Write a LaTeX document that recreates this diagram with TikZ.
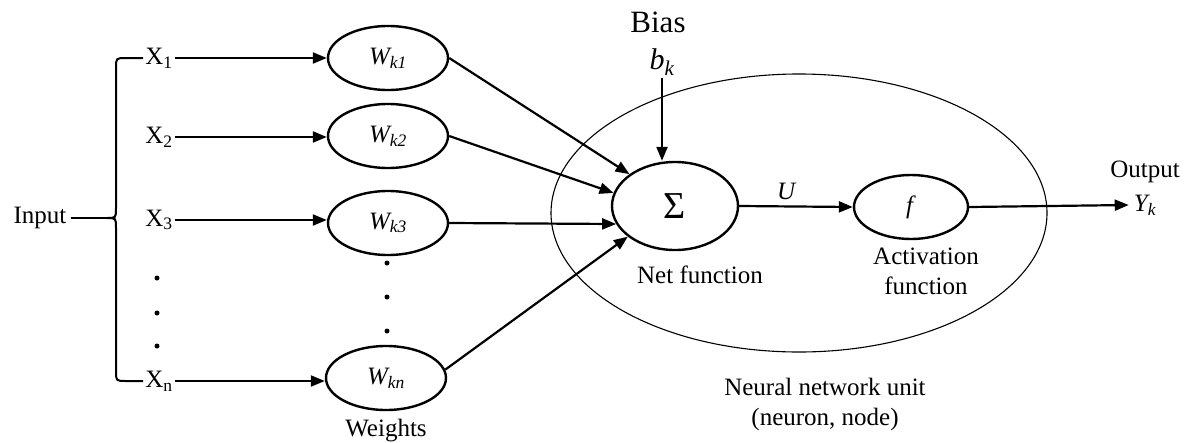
\documentclass[tikz,border=0pt]{standalone}
\usepackage{fontspec}
\setmainfont{Liberation Serif}
\usetikzlibrary{arrows.meta,positioning,shapes.geometric}

\begin{document}
\begin{tikzpicture}[
  x=1pt, y=-1pt,
  font=\fontsize{25}{30}\selectfont,
  node distance=8pt and 10pt,
  lab/.style={align=center, inner sep=2pt},
  wnode/.style={draw, ellipse, line width=2.4pt, inner sep=0pt,
                minimum width=120pt, minimum height=64pt},
  arr/.style={-{Triangle[length=14pt,width=11pt]}, line width=2.2pt},
  dot/.style={circle, fill, inner sep=0pt, minimum size=5pt}
]
\useasboundingbox (0,0) rectangle (1185,442);
% the neuron
\node[draw, ellipse, line width=1.1pt, minimum width=496pt, minimum height=278pt] (unit) at (799,213) {};
\node[lab] (unitlab) at (825,404) {Neural network unit\\(neuron, node)};
% inputs
\node[lab, inner sep=4pt] (input) at (40,218) {Input};
\node[lab] (x1) at (159,58) {X\textsubscript{1}};
\node[lab] (x2) at (159,137) {X\textsubscript{2}};
\node[lab] (x3) at (159,220) {X\textsubscript{3}};
\node[lab] (xn) at (159,381) {X\textsubscript{n}};
\foreach \y [count=\i] in {278,313,346}
  \node[dot] (xd\i) at (157,\y) {};
\coordinate (tip) at (107,218);
\draw[line width=2pt] (x1.west) -- (126,58) .. controls (116,58) .. (116,68)
  -- (116,208) .. controls (116,218) .. (tip) .. controls (116,218) .. (116,228)
  -- (116,371) .. controls (116,381) .. (126,381) -- (xn.west);
\draw[line width=2.2pt] (input.east) -- (tip);
% weights
\node[wnode] (w1) at (388,58) {\textit{W\textsubscript{k1}}};
\node[wnode] (w2) at (388,136) {\textit{W\textsubscript{k2}}};
\node[wnode] (w3) at (388,223) {\textit{W\textsubscript{k3}}};
\node[wnode] (wn) at (386,378) {\textit{W\textsubscript{kn}}};
\foreach \y [count=\i] in {263,297,331}
  \node[dot] (wd\i) at (387,\y) {};
\node[lab, below=6pt of wn] (wlab) {Weights};
\draw[arr] (x1.east) -- (x1.east -| w1.west);
\draw[arr] (x2.east) -- (x2.east -| w2.west);
\draw[arr] (x3.east) -- (x3.east -| w3.west);
\draw[arr] (xn.east) -- (xn.east -| wn.west);
% summation
\node[draw, ellipse, line width=2.4pt, inner sep=0pt, minimum width=126pt,
      minimum height=88pt, font=\fontsize{38}{40}\selectfont] (sig) at (675,206) {Σ};
\node[lab, below=12pt of sig, xshift=25pt] (siglab) {Net function};
\node[lab, font=\fontsize{31}{34}\selectfont] (bias) at (658,22) {Bias};
\node[lab, font=\fontsize{30}{34}\selectfont] (bk) at (662,62) {\textit{b\textsubscript{k}}};
\draw[arr] (bk.south) -- (bk.south |- sig.north);
\draw[arr] (w1.east) -- (sig.145);
\draw[arr] (w2.east) -- (sig.168);
\draw[arr] (w3.east) -- (sig.197);
\draw[arr] (wn.8) -- (sig.213);
% activation
\node[wnode, minimum width=114pt] (f) at (911,207) {\textit{f}};
\node[lab, below=6pt of f, xshift=15pt] (flab) {Activation\\function};
\draw[arr] (sig.east) -- (f.west) node[pos=0.42, above=2pt] {\textit{U}};
% output
\node[lab, inner sep=5pt] (yk) at (1145,205) {\textit{Y\textsubscript{k}}};
\node[lab] (outlab) at (1145,172) {Output};
\draw[arr] (f.east) -- (yk.west);
\end{tikzpicture}
\end{document}
